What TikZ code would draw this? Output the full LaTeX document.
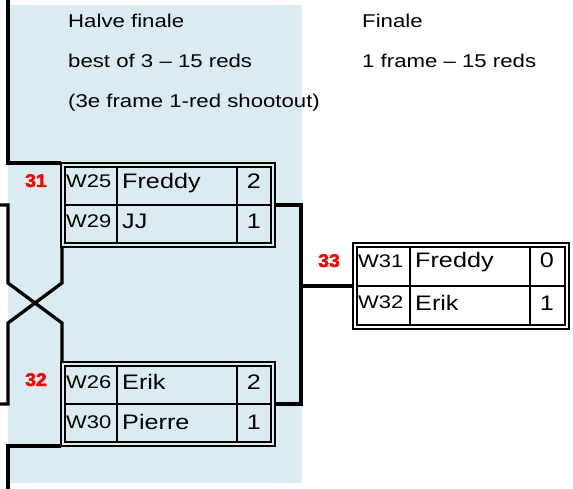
\documentclass[tikz,border=0pt]{standalone}
\usepackage{fontspec}
\setmainfont[FakeStretch=1.2]{Liberation Sans}
\newfontfamily\heavyfont[FakeStretch=1.05,FakeBold=2.5]{Liberation Sans}
\definecolor{paleblue}{RGB}{218,236,242}
\definecolor{numred}{RGB}{255,0,0}
\begin{document}
\begin{tikzpicture}[x=1pt,y=-1pt,
  outerbox/.style={draw=black,line width=1.5pt,inner sep=0pt,outer sep=0pt,rectangle},
  cell/.style={draw=black,line width=1.5pt},
  bracket/.style={draw=black,line width=3.3pt,line join=miter},
  hdr/.style={anchor=base west,inner sep=0pt,font=\fontsize{18.5}{20}\selectfont},
  wlab/.style={anchor=base west,inner sep=0pt,font=\fontsize{18.3}{19}\selectfont},
  pname/.style={anchor=base west,inner sep=0pt,font=\fontsize{21}{22}\selectfont},
  pscore/.style={anchor=base,inner sep=0pt,font=\fontsize{21}{22}\selectfont},
  mnum/.style={anchor=base west,inner sep=0pt,text=numred,font=\fontsize{18.5}{20}\heavyfont\bfseries}]
\useasboundingbox (0,0) rectangle (573,489);
\fill[paleblue] (8,5) rectangle (302,483);

% headers
\node[hdr] (h1) at (68,28) {Halve finale};
\node[hdr] (h2) at (68,68) {best of 3 -- 15 reds};
\node[hdr] (h3) at (68,108) {(3e frame 1-red shootout)};
\node[hdr] (f1) at (362,28) {Finale};
\node[hdr] (f2) at (362,68) {1 frame -- 15 reds};

% match 31
\node[outerbox,minimum width=214pt,minimum height=84pt] (m31) at (168,205) {};
\draw[cell] (65,167) rectangle (271,243);
\draw[cell] (65,205) -- (271,205) (117,167) -- (117,243) (237,167) -- (237,243);
\node[mnum] (n31) at (25,187) {31};
\node[wlab] (m31w1) at (66,188) {W25};
\node[pname] (m31p1) at (122,189) {Freddy};
\node[pscore] (m31s1) at (254,189) {2};
\node[wlab] (m31w2) at (66,228) {W29};
\node[pname] (m31p2) at (122,229) {JJ};
\node[pscore] (m31s2) at (254,229) {1};

% match 32
\node[outerbox,minimum width=214pt,minimum height=84pt] (m32) at (168,404) {};
\draw[cell] (65,366) rectangle (271,442);
\draw[cell] (65,404) -- (271,404) (117,366) -- (117,442) (237,366) -- (237,442);
\node[mnum] (n32) at (25,386) {32};
\node[wlab] (m32w1) at (66,388) {W26};
\node[pname] (m32p1) at (122,389) {Erik};
\node[pscore] (m32s1) at (254,389) {2};
\node[wlab] (m32w2) at (66,428) {W30};
\node[pname] (m32p2) at (122,429) {Pierre};
\node[pscore] (m32s2) at (254,429) {1};

% match 33
\node[outerbox,minimum width=216pt,minimum height=86pt] (m33) at (461,286) {};
\draw[cell] (357,247) rectangle (565,325);
\draw[cell] (357,286) -- (565,286) (410,247) -- (410,325) (530,247) -- (530,325);
\node[mnum] (n33) at (318,267) {33};
\node[wlab] (m33w1) at (358,267) {W31};
\node[pname] (m33p1) at (415,268) {Freddy};
\node[pscore] (m33s1) at (547,268) {0};
\node[wlab] (m33w2) at (358,308) {W32};
\node[pname] (m33p2) at (415,310) {Erik};
\node[pscore] (m33s2) at (547,310) {1};

% connector coordinates
\coordinate (topin) at (8,0);
\coordinate (inA) at (0,205);
\coordinate (inB) at (0,404);
\coordinate (botin) at (8,489);

% brackets
\draw[bracket] (topin) -- (8,163) -- (m31.north west);
\draw[bracket] (inA) -- (8,205) -- (8,283) -- (62,323) -- (62,362.7);
\draw[bracket] (62,247.3) -- (62,283) -- (8,323) -- (8,404) -- (inB);
\draw[bracket] (m32.south west) -- (8,446) -- (botin);
\draw[bracket] (m31.east) -- (301,205) -- (301,404) -- (m32.east);
\draw[bracket] (301,286) -- (m33.west);
\end{tikzpicture}
\end{document}
